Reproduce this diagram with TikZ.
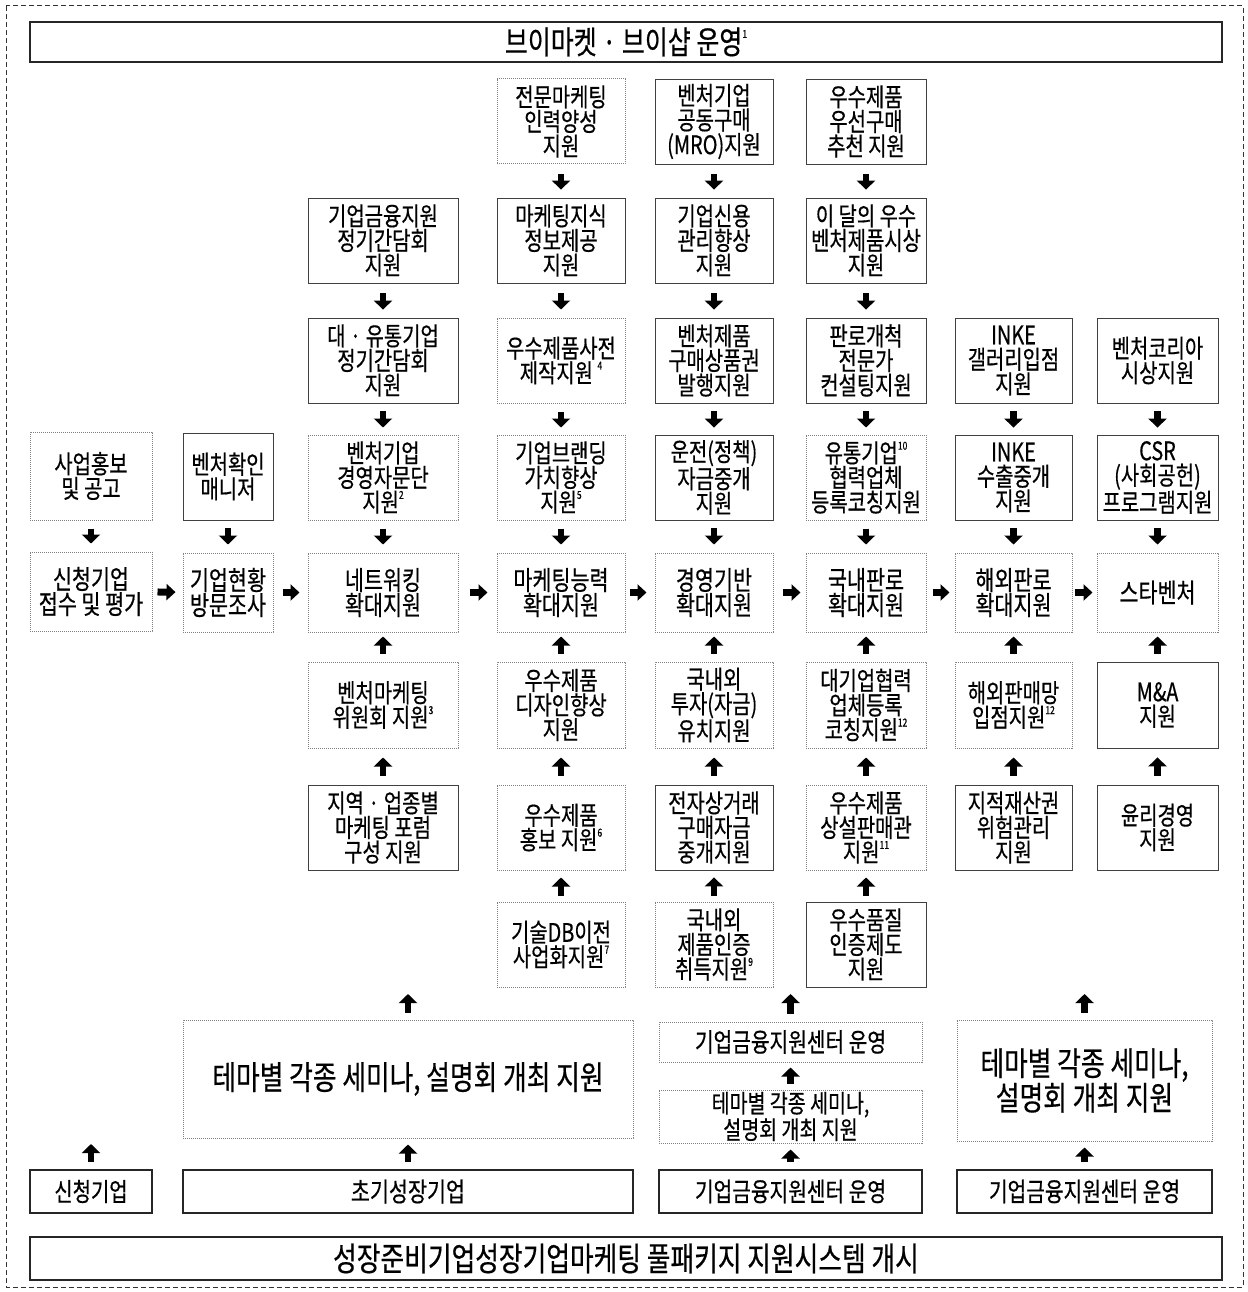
\documentclass[tikz,border=0pt]{standalone}
\usepackage{fontspec}
\setmainfont{Noto Sans CJK KR}[FakeStretch=0.78, FakeBold=0.5]
\usetikzlibrary{arrows.meta}
\newcommand\ssup[1]{\raisebox{0.5em}{\fontsize{11}{11}\selectfont #1}}
\newcommand\bx[7]{\node[#1, minimum width=#5pt, minimum height=#6pt] (#2) at (#3,#4) {#7};}
\tikzset{
  base/.style={align=center, inner sep=0pt, font=\fontsize{25.5}{24.6}\selectfont, text=black},
  solidbox/.style={base, draw=black!75, line width=0.8pt},
  dotbox/.style={base, draw=black!50, dash pattern=on 1.2pt off 0.8pt, line width=1pt},
  heavybox/.style={base, draw=black!85, line width=1.8pt},
  mainrow/.style={font=\fontsize{26.5}{25}\selectfont},
  blk/.style={line width=6.5pt, -{Triangle[length=9pt,width=18pt]}, black},
  hblk/.style={line width=7pt, -{Triangle[length=9pt,width=16pt]}, black},
}
\begin{document}
\begin{tikzpicture}[x=1pt, y=-1pt]
\useasboundingbox (0,0) rectangle (1247,1292);
\fill[white] (0,0) rectangle (1247,1292);
\draw[black!80, line width=1pt, dash pattern=on 5pt off 3pt] (6,6) rectangle (1243,1287);

% title boxes
\bx{heavybox, font=\fontsize{32}{32}\selectfont}{top}{626}{42}{1192}{40}{브이마켓 · 브이샵 운영\ssup{1}}
\bx{heavybox, font=\fontsize{33}{33}\selectfont}{bottom}{626}{1258.5}{1192}{43}{성장준비기업성장기업마케팅 풀패키지 지원시스템 개시}

% Row A
\bx{dotbox}{a4}{561}{121.5}{128}{85}{전문마케팅\\인력양성\\지원}
\bx{solidbox}{a5}{714}{121.5}{118}{85}{벤처기업\\공동구매\\(MRO)지원}
\bx{solidbox}{a6}{866}{121.5}{120}{85}{우수제품\\우선구매\\추천 지원}

% Row B
\bx{solidbox}{b3}{383}{240.5}{150}{85}{기업금융지원\\정기간담회\\지원}
\bx{solidbox}{b4}{561}{240.5}{128}{85}{마케팅지식\\정보제공\\지원}
\bx{solidbox}{b5}{714}{240.5}{118}{85}{기업신용\\관리향상\\지원}
\bx{solidbox}{b6}{866}{240.5}{120}{85}{이 달의 우수\\벤처제품시상\\지원}

% Row C
\bx{solidbox}{c3}{383}{360.5}{150}{85}{대 · 유통기업\\정기간담회\\지원}
\bx{dotbox}{c4}{561}{360.5}{128}{85}{우수제품사전\\제작지원 \ssup{4}}
\bx{solidbox}{c5}{714}{360.5}{118}{85}{벤처제품\\구매상품권\\발행지원}
\bx{solidbox}{c6}{866}{360.5}{120}{85}{판로개척\\전문가\\컨설팅지원}
\bx{solidbox}{c7}{1013.5}{360.5}{117}{85}{INKE\\갤러리입점\\지원}
\bx{solidbox}{c8}{1157.5}{360.5}{121}{85}{벤처코리아\\시상지원}

% Row D
\bx{dotbox}{d1}{91}{476}{122}{88}{사업홍보\\및 공고}
\bx{solidbox}{d2}{228}{476.5}{90}{87}{벤처확인\\매니저}
\bx{dotbox}{d3}{383}{477.5}{150}{85}{벤처기업\\경영자문단\\지원\ssup{2}}
\bx{dotbox}{d4}{561}{477.5}{128}{85}{기업브랜딩\\가치향상\\지원\ssup{5}}
\bx{solidbox}{d5}{714}{477.5}{118}{85}{운전(정책)\\자금중개\\지원}
\bx{dotbox}{d6}{866}{477.5}{120}{85}{유통기업\ssup{10}\\협력업체\\등록코칭지원}
\bx{solidbox}{d7}{1013.5}{477.5}{117}{85}{INKE\\수출중개\\지원}
\bx{solidbox}{d8}{1157.5}{477.5}{121}{85}{CSR\\(사회공헌)\\프로그램지원}

% Row E (main)
\bx{dotbox, mainrow}{e1}{91}{591.5}{122}{79}{신청기업\\접수 및 평가}
\bx{dotbox, mainrow}{e2}{228}{592.5}{90}{79}{기업현황\\방문조사}
\bx{dotbox, mainrow}{e3}{383}{592.5}{150}{79}{네트워킹\\확대지원}
\bx{dotbox, mainrow}{e4}{561}{592.5}{128}{79}{마케팅능력\\확대지원}
\bx{dotbox, mainrow}{e5}{714}{592.5}{118}{79}{경영기반\\확대지원}
\bx{dotbox, mainrow}{e6}{866}{592.5}{120}{79}{국내판로\\확대지원}
\bx{dotbox, mainrow}{e7}{1013.5}{592.5}{117}{79}{해외판로\\확대지원}
\bx{dotbox, mainrow}{e8}{1157.5}{592.5}{121}{79}{스타벤처}

% Row F
\bx{dotbox}{f3}{383}{705}{150}{86}{벤처마케팅\\위원회 지원\ssup{3}}
\bx{dotbox}{f4}{561}{705}{128}{86}{우수제품\\디자인향상\\지원}
\bx{dotbox}{f5}{714}{705}{118}{86}{국내외\\투자(자금)\\유치지원}
\bx{dotbox}{f6}{866}{705}{120}{86}{대기업협력\\업체등록\\코칭지원\ssup{12}}
\bx{dotbox}{f7}{1013.5}{705}{117}{86}{해외판매망\\입점지원\ssup{12}}
\bx{solidbox}{f8}{1157.5}{705}{121}{86}{M\&A\\지원}

% Row G
\bx{solidbox}{g3}{383}{827.5}{150}{85}{지역 · 업종별\\마케팅 포럼\\구성 지원}
\bx{dotbox}{g4}{561}{827.5}{128}{85}{우수제품\\홍보 지원\ssup{6}}
\bx{solidbox}{g5}{714}{827.5}{118}{85}{전자상거래\\구매자금\\중개지원}
\bx{dotbox}{g6}{866}{827.5}{120}{85}{우수제품\\상설판매관\\지원\ssup{11}}
\bx{solidbox}{g7}{1013.5}{827.5}{117}{85}{지적재산권\\위험관리\\지원}
\bx{solidbox}{g8}{1157.5}{827.5}{121}{85}{윤리경영\\지원}

% Row H
\bx{dotbox}{h4}{561}{944.5}{128}{85}{기술DB이전\\사업화지원\ssup{7}}
\bx{dotbox}{h5}{714}{944.5}{118}{85}{국내외\\제품인증\\취득지원\ssup{9}}
\bx{solidbox}{h6}{866}{944.5}{120}{85}{우수품질\\인증제도\\지원}

% Row I
\bx{dotbox, font=\fontsize{33}{33}\selectfont}{semL}{408}{1079}{450}{118}{테마별 각종 세미나, 설명회 개최 지원}
\bx{dotbox, font=\fontsize{26}{26}\selectfont}{semMt}{790.5}{1042}{263}{40}{기업금융지원센터 운영}
\bx{dotbox, font=\fontsize{25}{22.5}\selectfont}{semMb}{790.5}{1116.5}{263}{53}{테마별 각종 세미나,\\설명회 개최 지원}
\bx{dotbox, font=\fontsize{33}{33}\selectfont}{semR}{1084.5}{1080.5}{255}{121}{테마별 각종 세미나,\\설명회 개최 지원}

% Row J
\bx{heavybox, font=\fontsize{25.5}{26}\selectfont}{j1}{91}{1191.5}{122}{43}{신청기업}
\bx{heavybox, font=\fontsize{26.5}{27}\selectfont}{jL}{408}{1191.5}{450}{43}{초기성장기업}
\bx{heavybox, font=\fontsize{26}{26}\selectfont}{jM}{790.5}{1191.5}{263}{43}{기업금융지원센터 운영}
\bx{heavybox, font=\fontsize{26}{26}\selectfont}{jR}{1084.5}{1191.5}{255}{43}{기업금융지원센터 운영}

% free arrow ends
\coordinate (tL) at (408,994);
\coordinate (tM) at (790.5,994);
\coordinate (tR) at (1084.5,994);
\coordinate (t1) at (91,1144);

% down arrows A->B
\foreach \c in {4,5,6} {\draw[blk, shorten <=10pt, shorten >=8pt] (a\c) -- (b\c);}
% B->C
\foreach \c in {3,4,5,6} {\draw[blk, shorten <=10pt, shorten >=8pt] (b\c) -- (c\c);}
% C->D
\foreach \c in {3,4,5,6,7,8} {\draw[blk, shorten <=8pt, shorten >=7pt] (c\c) -- (d\c);}
% D->E
\foreach \c in {1,2,3,4,5,6,7,8} {\draw[blk, shorten <=8pt, shorten >=8pt] (d\c) -- (e\c);}
% E horizontal
\draw[hblk, shorten <=5pt, shorten >=7pt] (e1) -- (e2);
\draw[hblk, shorten <=9pt, shorten >=8pt] (e2) -- (e3);
\draw[hblk, shorten <=11pt, shorten >=9pt] (e3) -- (e4);
\draw[hblk, shorten <=4pt, shorten >=8pt] (e4) -- (e5);
\draw[hblk, shorten <=9pt, shorten >=5pt] (e5) -- (e6);
\draw[hblk, shorten <=6pt, shorten >=5pt] (e6) -- (e7);
\draw[hblk, shorten <=2pt, shorten >=4pt] (e7) -- (e8);
% F->E up
\foreach \c in {3,4,5,6,7,8} {\draw[blk, shorten <=8pt, shorten >=4pt] (f\c) -- (e\c);}
% G->F up
\foreach \c in {3,4,5,6,7,8} {\draw[blk, shorten <=9pt, shorten >=9pt] (g\c) -- (f\c);}
% H->G up
\foreach \c in {4,5,6} {\draw[blk, shorten <=6pt, shorten >=7pt] (h\c) -- (g\c);}
% Row I up arrows
\draw[blk, shorten <=7pt] (semL.north) -- (tL);
\draw[blk, shorten <=8pt] (semMt.north) -- (tM);
\draw[blk, shorten <=7pt] (semR.north) -- (tR);
\draw[blk, shorten <=6pt, shorten >=5pt] (semMb) -- (semMt);
% Row J up arrows
\draw[blk, shorten <=7pt] (j1.north) -- (t1);
\draw[blk, shorten <=7pt, shorten >=6pt] (jL) -- (semL);
\draw[blk, shorten <=7pt, shorten >=6pt] (jM) -- (semMb);
\draw[blk, shorten <=7pt, shorten >=6pt] (jR) -- (semR);
\end{tikzpicture}
\end{document}
